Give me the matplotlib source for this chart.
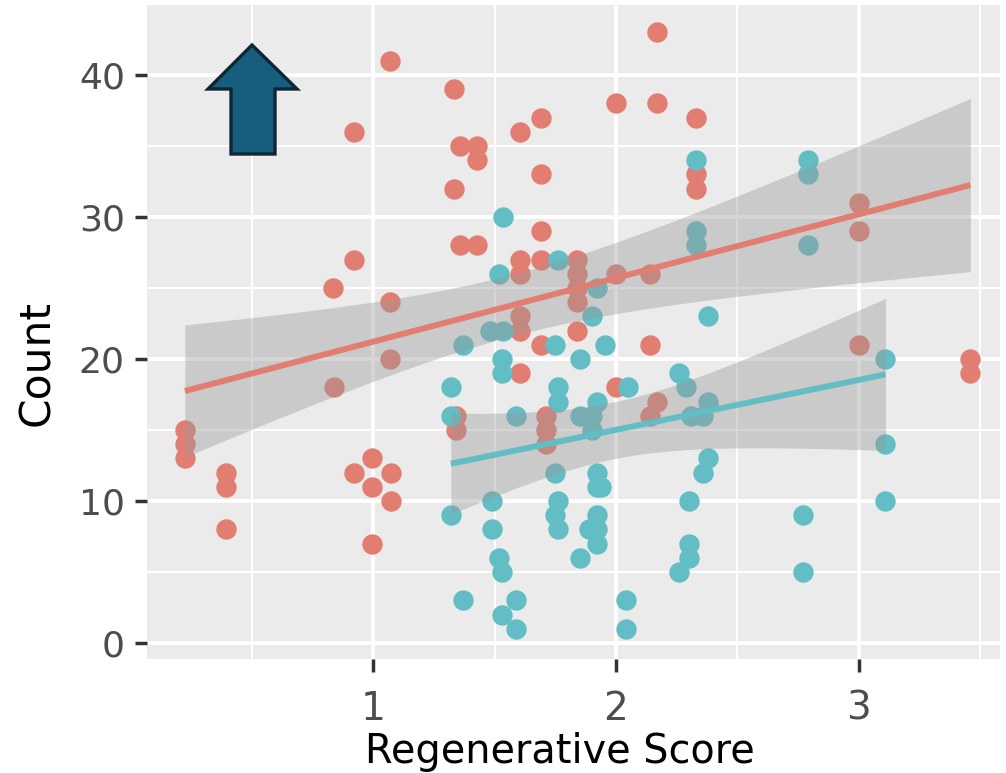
import numpy as np
import matplotlib
matplotlib.use("Agg")
import matplotlib.pyplot as plt
from matplotlib.patches import Polygon
from matplotlib.ticker import MultipleLocator

# ---------------------------------------------------------------------------
# Data
# ---------------------------------------------------------------------------
red_x = [0.224, 0.224, 0.224, 0.393, 0.393, 0.393, 0.835, 0.84,
         0.92, 0.92, 0.92, 0.995, 0.995, 0.995, 1.07, 1.07, 1.07, 1.073, 1.073,
         1.333, 1.333, 1.357, 1.357, 1.426, 1.426, 1.426, 1.34, 1.34,
         1.605, 1.605, 1.605, 1.605, 1.605, 1.605,
         1.69, 1.69, 1.69, 1.69, 1.69, 1.71, 1.71, 1.71,
         1.84, 1.84, 1.84, 1.84, 1.84, 2.0, 2.0, 2.0,
         2.14, 2.14, 2.14, 2.17, 2.17, 2.17, 2.33, 2.33, 2.33,
         3.0, 3.0, 3.0, 3.46, 3.46]
red_y = [15, 14, 13, 12, 11, 8, 25, 18,
         36, 27, 12, 13, 11, 7, 41, 24, 20, 12, 10,
         39, 32, 35, 28, 35, 34, 28, 16, 15,
         36, 27, 26, 23, 22, 19,
         37, 33, 29, 27, 21, 16, 15, 14,
         27, 26, 25, 24, 22, 38, 26, 18,
         26, 21, 16, 43, 38, 17, 37, 33, 32,
         31, 29, 21, 20, 19]

teal_x = [1.32, 1.32, 1.32, 1.37, 1.37, 1.48, 1.49, 1.49,
          1.52, 1.52, 1.53, 1.535, 1.535, 1.53, 1.53, 1.53,
          1.59, 1.59, 1.59, 1.75, 1.75,
          1.76, 1.76, 1.76, 1.76, 1.75, 1.76, 1.85, 1.85, 1.85,
          1.92, 1.9, 1.92, 1.9, 1.9, 1.92, 1.94, 1.92, 1.92, 1.89, 1.92, 1.92,
          1.955, 2.05, 2.04, 2.04,
          2.26, 2.29, 2.31, 2.3, 2.3, 2.3, 2.26,
          2.33, 2.33, 2.33, 2.38, 2.38, 2.36, 2.38, 2.36,
          2.77, 2.77, 2.79, 2.79, 2.79, 3.11, 3.11, 3.11]
teal_y = [18, 16, 9, 21, 3, 22, 10, 8,
          26, 6, 5, 30, 22, 20, 19, 2,
          16, 3, 1, 21, 12,
          27, 18, 17, 10, 9, 8, 20, 16, 6,
          25, 23, 17, 16, 15, 12, 11, 11, 9, 8, 8, 7,
          21, 18, 3, 1,
          19, 18, 16, 10, 7, 6, 5,
          34, 29, 28, 23, 17, 16, 13, 12,
          9, 5, 34, 33, 28, 20, 14, 10]

RED = "#E27D71"
TEAL = "#63BDC4"
T_CRIT = 1.997  # 95% t quantile, ~65 df


def lm_band(x, y):
    x = np.asarray(x, float)
    y = np.asarray(y, float)
    b, a = np.polyfit(x, y, 1)
    xs = np.linspace(x.min(), x.max(), 80)
    fit = a + b * xs
    n = len(x)
    resid = y - (a + b * x)
    s = np.sqrt(np.sum(resid ** 2) / (n - 2))
    sxx = np.sum((x - x.mean()) ** 2)
    se = s * np.sqrt(1 / n + (xs - x.mean()) ** 2 / sxx)
    return xs, fit, fit - T_CRIT * se, fit + T_CRIT * se


W, H = 1006, 773
fig = plt.figure(figsize=(W / 100, H / 100), dpi=100)
ax = fig.add_axes([147 / W, 1 - 659 / H, 853 / W, 654 / H])
ax.set_facecolor("#EBEBEB")
for s in ax.spines.values():
    s.set_visible(False)

ax.scatter(red_x, red_y, s=215, color=RED, linewidths=0, zorder=3)
ax.scatter(teal_x, teal_y, s=215, color=TEAL, linewidths=0, zorder=3)

for xs_, ys_, col in [(red_x, red_y, RED), (teal_x, teal_y, TEAL)]:
    xs, fit, lo, hi = lm_band(xs_, ys_)
    ax.fill_between(xs, lo, hi, color="#999999", alpha=0.4, linewidth=0, zorder=4)
    ax.plot(xs, fit, color=col, lw=4.3, zorder=5, solid_capstyle="butt")

ax.set_xlim(0.068, 3.582)
ax.set_ylim(-1.13, 44.93)
ax.xaxis.set_major_locator(MultipleLocator(1))
ax.xaxis.set_minor_locator(MultipleLocator(0.5))
ax.yaxis.set_major_locator(MultipleLocator(10))
ax.yaxis.set_minor_locator(MultipleLocator(5))
ax.grid(which="major", color="white", lw=2.8, zorder=0)
ax.grid(which="minor", color="white", lw=1.4, zorder=0)
ax.set_axisbelow(True)
ax.tick_params(which="minor", length=0)
ax.tick_params(which="major", length=9, width=2.5, color="#333333")
ax.tick_params(axis="x", labelsize=28, labelcolor="#4D4D4D", pad=13)
ax.tick_params(axis="y", labelsize=26, labelcolor="#4D4D4D", pad=7)

ax.set_xlabel("Regenerative Score", fontsize=28.6, color="black")
ax.xaxis.set_label_coords((560 - 147) / 853, -0.112)
ax.set_ylabel("Count", fontsize=30.5, color="black")
ax.yaxis.set_label_coords((37 - 147) / 853, (659 - 363) / 654)
ax.yaxis.label.set_va("center")

# up arrow annotation (pixel coords of the overlay shape)
arrow_px = [(252, 45), (297, 89), (275, 89), (275, 154),
            (231, 154), (231, 89), (208, 89)]
arrow = Polygon([(px / W, 1 - py / H) for px, py in arrow_px], closed=True,
                transform=fig.transFigure, facecolor="#175E7E",
                edgecolor="#0F2535", lw=2.4, zorder=10)
fig.patches.append(arrow)

fig.savefig("out.png", dpi=100)
